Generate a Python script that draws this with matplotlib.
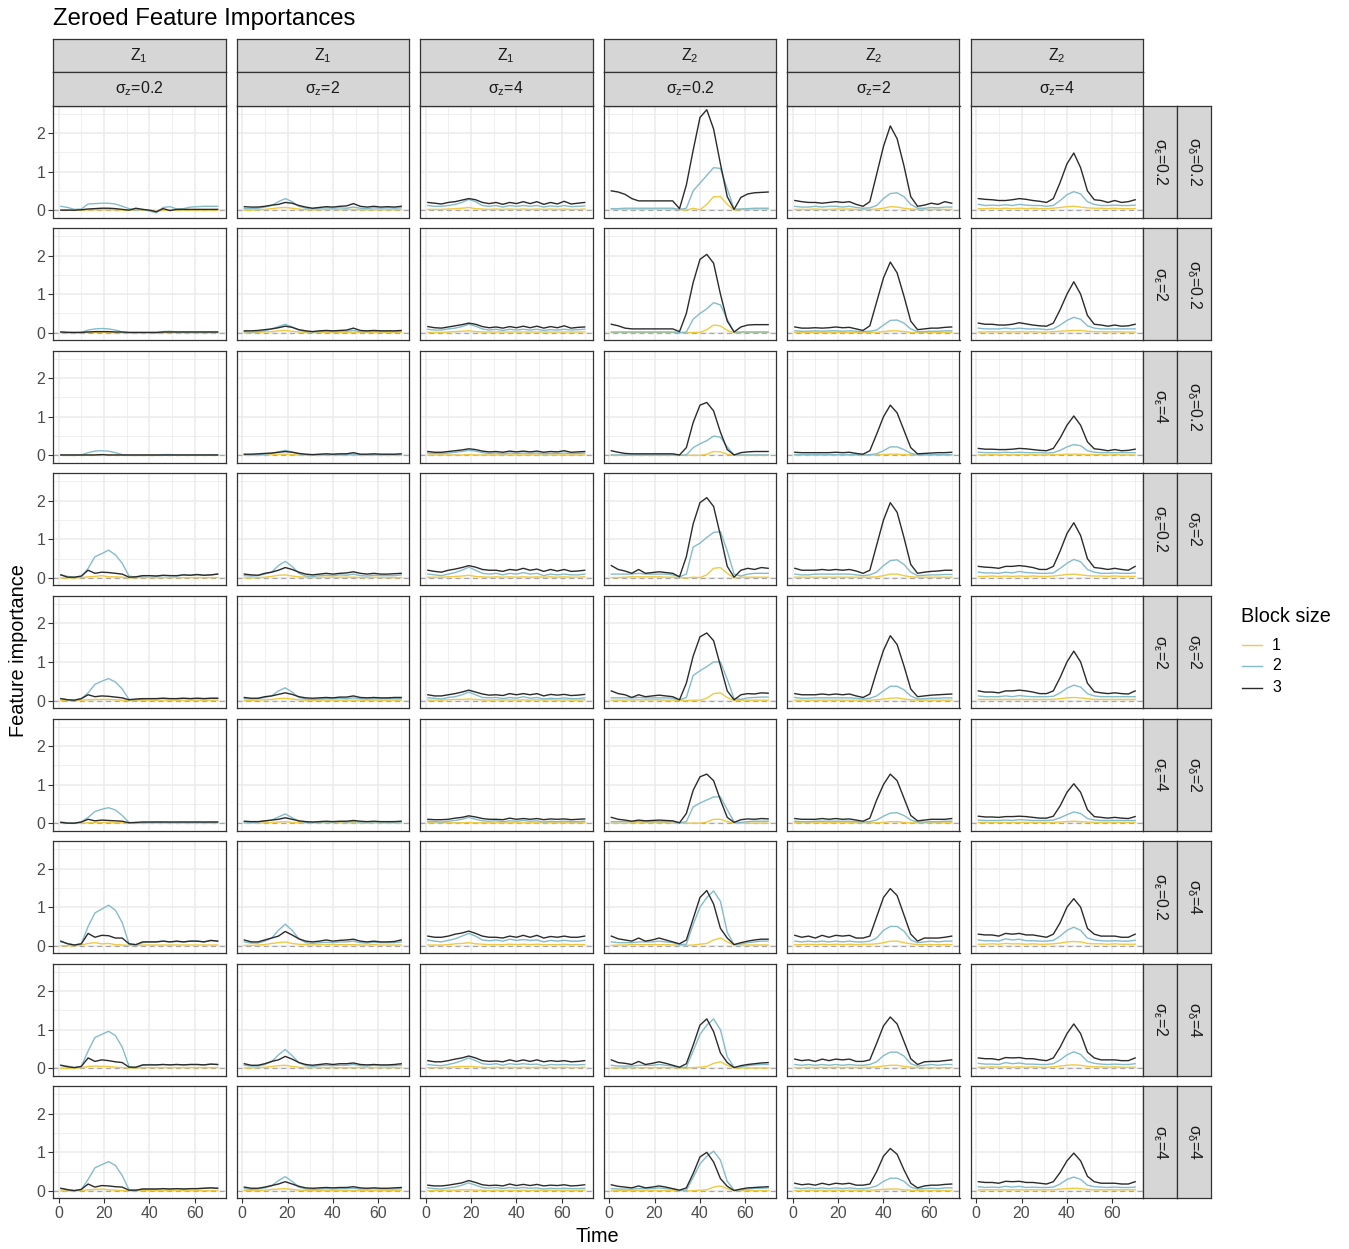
import numpy as np
import matplotlib
matplotlib.use("Agg")
import matplotlib.pyplot as plt
from matplotlib.lines import Line2D

plt.rcParams['font.family'] = ['Liberation Sans', 'DejaVu Sans']
plt.rcParams['mathtext.fontset'] = 'custom'
plt.rcParams['mathtext.rm'] = 'Liberation Sans'
plt.rcParams['mathtext.it'] = 'Liberation Sans:italic'
plt.rcParams['mathtext.bf'] = 'Liberation Sans:bold'

time = [1, 4, 7, 10, 13, 16, 19, 22, 25, 28, 31, 34, 37, 40, 43, 46, 49, 52, 55, 58, 61, 64, 67, 70]

feature_labels = ['Z_1', 'Z_1', 'Z_1', 'Z_2', 'Z_2', 'Z_2']
sigma_z = ['0.2', '2', '4', '0.2', '2', '4']
sigma_eps = ['0.2', '2', '4', '0.2', '2', '4', '0.2', '2', '4']
sigma_delta = ['0.2', '0.2', '0.2', '2', '2', '2', '4', '4', '4']
block_sizes = ['1', '2', '3']
block_colors = ['#EFCB45', '#85BCCC', '#2B2B2B']

# ---- Z1, sigma_z = 0.2 ----
z1_sz02_b1 = [
    [1, 1, 0, 0, 1, 1, 1, 1, 1, 0, 0, 0, 0, -1, -3, 0, 0, 0, 0, 0, 0, 0, 0, 0],
    [0, 0, 0, 0, 1, 1, 1, 1, 0, 0, 0, 0, 0, 0, 0, 0, 0, 0, 0, 0, 0, 0, 0, 0],
    [0, 0, 0, 0, 0, 1, 1, 1, 0, 0, 0, 0, 0, 0, 0, 0, 0, 0, 0, 0, 0, 0, 0, 0],
    [0, 0, 0, 1, 3, 4, 6, 3, 3, 2, 0, 1, 1, 1, 1, 1, 1, 1, 1, 1, 1, 1, 1, 1],
    [0, 0, 0, 1, 2, 3, 3, 3, 2, 1, 0, 1, 1, 1, 1, 1, 1, 1, 1, 1, 1, 1, 1, 1],
    [0, 0, 0, 0, 1, 2, 2, 2, 1, 1, 0, 0, 0, 0, 0, 0, 0, 0, 0, 0, 0, 0, 0, 0],
    [0, 0, 0, 2, 6, 8, 5, 6, 3, 2, 1, 1, 2, 2, 2, 2, 2, 2, 2, 2, 2, 2, 2, 2],
    [0, 0, 0, 2, 5, 6, 5, 5, 3, 2, 1, 1, 2, 2, 2, 2, 2, 2, 2, 2, 2, 2, 2, 2],
    [0, 0, 0, 1, 3, 4, 5, 3, 2, 1, 0, 1, 1, 1, 1, 1, 1, 1, 1, 1, 1, 1, 1, 1],
]
z1_sz02_b2 = [
    [10, 7, 2, 3, 16, 17, 18, 18, 16, 10, 4, 0, 2, -2, -7, 7, 9, 3, 4, 8, 9, 10, 10, 10],
    [2, 1, 0, 1, 7, 10, 11, 10, 7, 2, 0, 0, 0, 0, -1, 3, 4, 2, 2, 2, 2, 2, 2, 2],
    [1, 0, 0, 1, 7, 11, 12, 11, 7, 2, 0, 0, 0, 0, 0, 2, 2, 1, 1, 1, 1, 1, 1, 1],
    [8, 4, 2, 3, 25, 55, 63, 72, 60, 38, 5, 2, 5, 6, 5, 6, 6, 5, 8, 7, 8, 7, 8, 10],
    [5, 2, 1, 5, 20, 42, 50, 57, 48, 30, 3, 2, 4, 5, 5, 6, 5, 5, 6, 5, 6, 5, 6, 6],
    [3, 1, 0, 3, 15, 30, 36, 40, 34, 20, 2, 0, 2, 2, 3, 3, 2, 2, 3, 2, 3, 2, 3, 3],
    [10, 6, 2, 5, 50, 85, 95, 105, 92, 60, 5, 2, 8, 10, 10, 12, 10, 11, 10, 12, 12, 10, 13, 12],
    [8, 6, 2, 5, 45, 80, 88, 96, 85, 55, 5, 2, 8, 10, 9, 10, 9, 10, 9, 10, 10, 9, 11, 10],
    [6, 4, 1, 4, 30, 60, 68, 76, 66, 40, 3, 2, 5, 5, 5, 6, 5, 6, 5, 6, 6, 7, 8, 7],
]
z1_sz02_b3 = [
    [0, 0, 0, 1, 3, 4, 5, 5, 4, 2, 0, 5, 2, 0, -4, 4, -1, 2, 2, 2, 2, 2, 2, 2],
    [2, 1, 1, 1, 2, 3, 3, 3, 2, 2, 1, 1, 1, 1, 1, 2, 2, 2, 2, 2, 2, 2, 2, 2],
    [1, 1, 1, 1, 1, 1, 2, 1, 1, 1, 1, 1, 1, 1, 1, 1, 1, 1, 1, 1, 1, 1, 1, 1],
    [8, 2, 2, 5, 20, 12, 15, 14, 12, 10, 2, 3, 6, 6, 5, 7, 6, 6, 8, 7, 9, 7, 8, 10],
    [5, 2, 1, 5, 15, 10, 12, 11, 9, 7, 2, 4, 5, 5, 5, 6, 5, 5, 6, 5, 6, 5, 6, 6],
    [2, 0, 0, 3, 10, 6, 8, 7, 6, 5, 1, 2, 3, 3, 3, 3, 3, 3, 3, 3, 3, 3, 3, 3],
    [12, 5, 2, 5, 32, 22, 27, 26, 20, 20, 5, 3, 10, 10, 10, 12, 10, 12, 10, 12, 12, 10, 14, 12],
    [8, 4, 2, 5, 27, 18, 22, 20, 17, 15, 3, 3, 9, 9, 9, 10, 9, 10, 9, 10, 10, 9, 11, 10],
    [7, 3, 1, 4, 18, 10, 14, 13, 11, 10, 2, 2, 5, 5, 5, 6, 5, 6, 5, 6, 6, 7, 8, 7],
]

# ---- Z1, sigma_z = 2 ----
z1_sz2_b1 = [
    [0, 0, 1, 2, 4, 6, 7, 5, 3, 1, 1, 1, 2, 2, 1, 2, 2, 1, 1, 1, 1, 1, 1, 1],
    [0, 0, 1, 2, 3, 5, 6, 4, 2, 1, 1, 1, 1, 1, 1, 1, 1, 1, 1, 1, 1, 1, 1, 1],
    [0, 0, 0, 1, 2, 3, 3, 2, 1, 1, 0, 0, 1, 1, 0, 1, 1, 0, 0, 1, 0, 0, 0, 0],
    [0, 0, 1, 2, 4, 7, 8, 5, 3, 2, 1, 2, 2, 2, 2, 2, 2, 1, 1, 2, 1, 1, 1, 1],
    [0, 0, 1, 2, 3, 5, 6, 4, 2, 1, 1, 1, 1, 1, 1, 1, 1, 1, 1, 1, 1, 1, 1, 1],
    [0, 0, 0, 1, 2, 3, 4, 2, 1, 1, 0, 1, 1, 1, 1, 1, 1, 0, 0, 1, 0, 0, 0, 0],
    [1, 1, 2, 3, 6, 8, 10, 6, 4, 3, 2, 3, 3, 3, 3, 3, 3, 2, 2, 3, 2, 2, 2, 2],
    [1, 1, 2, 3, 5, 7, 8, 5, 3, 2, 2, 2, 2, 2, 2, 2, 2, 2, 2, 2, 2, 2, 2, 2],
    [1, 1, 1, 2, 4, 5, 6, 4, 2, 1, 1, 1, 1, 1, 1, 1, 1, 1, 1, 1, 1, 1, 1, 1],
]
z1_sz2_b2 = [
    [4, 4, 5, 8, 12, 22, 30, 22, 10, 5, 4, 5, 6, 5, 6, 5, 8, 5, 4, 6, 5, 6, 5, 6],
    [3, 2, 3, 5, 10, 16, 22, 15, 7, 3, 2, 3, 4, 3, 4, 4, 6, 3, 3, 4, 3, 4, 3, 4],
    [2, 2, 2, 3, 5, 9, 13, 9, 4, 2, 1, 2, 2, 2, 2, 2, 3, 2, 2, 2, 2, 2, 2, 2],
    [6, 5, 6, 10, 15, 32, 43, 30, 12, 5, 4, 6, 7, 6, 8, 7, 10, 6, 5, 7, 6, 6, 6, 8],
    [5, 4, 5, 8, 12, 25, 33, 22, 8, 4, 3, 4, 5, 5, 6, 5, 7, 5, 4, 5, 5, 5, 5, 5],
    [3, 2, 3, 5, 8, 16, 24, 14, 5, 2, 2, 3, 3, 3, 4, 3, 4, 3, 3, 3, 3, 3, 3, 3],
    [10, 7, 7, 12, 20, 40, 56, 40, 18, 8, 6, 8, 9, 8, 10, 10, 12, 8, 7, 9, 8, 8, 8, 10],
    [8, 6, 6, 10, 17, 35, 49, 33, 15, 7, 5, 7, 8, 7, 8, 8, 10, 7, 6, 8, 7, 7, 7, 8],
    [6, 4, 5, 8, 13, 27, 37, 25, 10, 5, 4, 5, 6, 5, 6, 6, 7, 5, 5, 6, 5, 5, 5, 6],
]
z1_sz2_b3 = [
    [9, 8, 8, 10, 13, 15, 20, 18, 12, 8, 5, 7, 9, 8, 10, 11, 17, 10, 8, 10, 8, 9, 8, 10],
    [5, 5, 6, 8, 10, 13, 17, 14, 8, 5, 3, 5, 6, 5, 6, 7, 12, 6, 5, 6, 5, 5, 5, 6],
    [3, 3, 4, 5, 6, 8, 10, 8, 5, 3, 2, 3, 4, 3, 4, 4, 7, 3, 3, 4, 3, 3, 3, 4],
    [10, 8, 7, 12, 15, 20, 27, 22, 15, 10, 8, 10, 12, 10, 12, 13, 16, 12, 10, 12, 10, 10, 11, 12],
    [8, 6, 6, 10, 12, 16, 20, 16, 10, 7, 6, 7, 8, 7, 9, 9, 12, 8, 7, 8, 7, 7, 8, 8],
    [5, 4, 4, 6, 8, 10, 14, 10, 6, 4, 3, 4, 5, 4, 5, 5, 7, 5, 4, 5, 4, 4, 4, 5],
    [15, 10, 10, 15, 20, 25, 37, 28, 18, 12, 10, 12, 15, 12, 14, 15, 17, 12, 10, 12, 10, 10, 11, 15],
    [12, 8, 8, 12, 18, 22, 31, 24, 15, 10, 8, 10, 12, 10, 12, 12, 14, 10, 9, 10, 9, 9, 10, 12],
    [10, 7, 7, 10, 14, 18, 24, 18, 12, 8, 7, 8, 9, 8, 9, 9, 11, 8, 7, 8, 7, 7, 8, 9],
]

# ---- Z1, sigma_z = 4 ----
z1_sz4_b1 = [
    [2, 2, 2, 3, 4, 5, 7, 4, 3, 2, 3, 2, 3, 2, 3, 2, 3, 2, 3, 2, 3, 2, 2, 3],
    [1, 1, 1, 2, 3, 4, 5, 3, 2, 2, 2, 2, 2, 2, 2, 2, 2, 2, 2, 2, 2, 2, 2, 2],
    [1, 1, 1, 1, 1, 1, 2, 1, 1, 1, 1, 1, 1, 1, 1, 1, 1, 1, 1, 1, 1, 1, 1, 1],
    [2, 2, 2, 3, 4, 5, 7, 4, 3, 2, 3, 2, 3, 2, 3, 2, 3, 2, 3, 2, 3, 2, 2, 3],
    [1, 1, 1, 2, 3, 3, 4, 3, 2, 1, 2, 1, 2, 1, 2, 1, 2, 1, 2, 1, 2, 1, 1, 2],
    [1, 1, 1, 1, 1, 1, 2, 1, 1, 1, 1, 1, 1, 1, 1, 1, 1, 1, 1, 1, 1, 1, 1, 1],
    [2, 2, 2, 3, 5, 6, 8, 5, 4, 3, 3, 3, 4, 3, 4, 3, 4, 3, 3, 3, 4, 3, 3, 3],
    [2, 2, 2, 3, 4, 5, 5, 4, 3, 2, 3, 2, 3, 2, 3, 2, 3, 2, 3, 2, 3, 2, 2, 3],
    [1, 1, 1, 2, 2, 3, 3, 2, 2, 1, 2, 1, 2, 1, 2, 1, 2, 1, 2, 1, 2, 1, 1, 2],
]
z1_sz4_b2 = [
    [12, 10, 10, 12, 15, 20, 28, 22, 12, 10, 12, 8, 12, 10, 12, 10, 12, 8, 11, 9, 12, 9, 10, 11],
    [9, 7, 7, 10, 12, 16, 22, 17, 10, 7, 9, 6, 9, 7, 9, 7, 9, 6, 8, 7, 9, 7, 8, 9],
    [6, 5, 5, 6, 8, 10, 13, 11, 7, 5, 6, 4, 6, 5, 6, 5, 6, 4, 5, 5, 6, 5, 5, 6],
    [10, 8, 6, 10, 14, 20, 28, 20, 12, 10, 12, 8, 12, 10, 14, 10, 12, 6, 10, 8, 10, 8, 8, 10],
    [7, 6, 4, 8, 10, 15, 22, 15, 8, 7, 8, 5, 8, 6, 10, 6, 8, 4, 6, 5, 7, 5, 5, 7],
    [5, 4, 3, 5, 7, 10, 15, 10, 6, 5, 6, 4, 6, 5, 7, 5, 6, 3, 5, 4, 5, 4, 4, 5],
    [15, 12, 10, 14, 18, 25, 32, 25, 15, 13, 15, 12, 17, 14, 16, 14, 15, 10, 14, 12, 14, 12, 12, 14],
    [10, 8, 7, 10, 14, 20, 27, 20, 12, 10, 12, 8, 12, 10, 12, 10, 11, 7, 10, 9, 10, 9, 9, 10],
    [8, 6, 5, 8, 10, 15, 21, 15, 9, 7, 9, 6, 9, 7, 9, 7, 8, 5, 7, 6, 7, 6, 6, 7],
]
z1_sz4_b3 = [
    [20, 18, 16, 20, 22, 26, 30, 27, 20, 17, 20, 15, 20, 17, 22, 17, 22, 15, 20, 16, 23, 16, 18, 20],
    [16, 13, 12, 15, 18, 21, 25, 22, 16, 13, 15, 12, 16, 13, 17, 13, 17, 12, 16, 13, 18, 12, 14, 15],
    [10, 8, 8, 10, 12, 14, 17, 15, 11, 9, 10, 8, 11, 9, 11, 9, 11, 8, 10, 9, 12, 8, 9, 10],
    [20, 17, 15, 20, 23, 27, 32, 28, 22, 20, 20, 17, 22, 20, 25, 20, 23, 17, 22, 18, 22, 17, 18, 20],
    [15, 12, 12, 15, 18, 22, 27, 22, 17, 14, 15, 13, 18, 15, 18, 15, 18, 12, 16, 14, 16, 13, 14, 16],
    [10, 9, 9, 10, 13, 15, 19, 16, 12, 10, 10, 9, 13, 10, 12, 10, 12, 9, 11, 10, 11, 9, 10, 11],
    [25, 22, 22, 25, 30, 33, 38, 32, 25, 22, 22, 20, 25, 22, 27, 22, 27, 20, 24, 22, 25, 22, 22, 25],
    [20, 17, 17, 20, 24, 27, 32, 27, 20, 18, 19, 17, 22, 18, 22, 18, 22, 17, 20, 18, 20, 17, 18, 20],
    [15, 13, 13, 15, 18, 21, 27, 22, 16, 14, 15, 13, 18, 14, 17, 14, 17, 13, 15, 14, 16, 13, 14, 16],
]

# ---- Z2, sigma_z = 0.2 ----
z2_sz02_b1 = [
    [3, 3, 3, 3, 3, 3, 3, 3, 3, 3, 2, 0, 5, 1, 15, 35, 35, 15, 0, 2, 3, 3, 3, 3],
    [1, 1, 1, 1, 1, 1, 1, 1, 1, 1, 1, 0, 1, 1, 8, 20, 18, 6, 0, 1, 1, 1, 1, 1],
    [0, 0, 0, 0, 0, 0, 0, 0, 0, 0, 0, 0, 0, 0, 3, 10, 9, 3, 0, 0, 0, 0, 0, 0],
    [1, 1, 2, 3, 3, 3, 3, 3, 2, 2, 1, 0, 2, 1, 8, 25, 27, 12, 0, 2, 2, 2, 2, 2],
    [1, 1, 1, 2, 2, 2, 2, 2, 1, 1, 1, 0, 1, 1, 6, 18, 20, 8, 0, 1, 1, 1, 1, 1],
    [0, 0, 0, 1, 1, 1, 1, 1, 1, 0, 0, 0, 0, 0, 3, 10, 10, 4, 0, 0, 0, 0, 0, 0],
    [1, 2, 2, 3, 3, 3, 3, 3, 3, 2, 2, 1, 2, 4, 6, 15, 20, 10, 2, 2, 2, 2, 2, 2],
    [1, 1, 2, 2, 2, 2, 2, 2, 2, 2, 1, 1, 2, 3, 5, 13, 17, 8, 1, 1, 1, 1, 1, 1],
    [0, 1, 1, 1, 1, 1, 1, 1, 1, 1, 1, 0, 1, 2, 3, 10, 13, 6, 1, 1, 1, 1, 1, 1],
]
z2_sz02_b2 = [
    [4, 4, 5, 5, 5, 5, 5, 5, 5, 5, 2, 5, 50, 70, 90, 110, 108, 55, 3, 3, 4, 5, 5, 5],
    [2, 2, 2, 2, 2, 2, 2, 2, 2, 2, 0, 2, 35, 50, 62, 78, 72, 35, 2, 2, 2, 2, 2, 2],
    [1, 1, 1, 1, 1, 1, 1, 1, 1, 1, 0, 1, 20, 30, 38, 50, 47, 22, 1, 1, 1, 1, 1, 1],
    [10, 10, 10, 10, 12, 10, 10, 10, 10, 8, 3, 10, 80, 90, 105, 118, 120, 70, 10, 5, 10, 12, 12, 12],
    [7, 7, 7, 7, 8, 7, 7, 7, 7, 6, 2, 8, 65, 77, 88, 100, 100, 55, 5, 3, 7, 8, 9, 9],
    [4, 4, 4, 4, 5, 4, 4, 4, 4, 4, 1, 4, 42, 52, 60, 68, 68, 35, 3, 2, 4, 5, 5, 5],
    [10, 8, 8, 8, 10, 10, 10, 12, 10, 8, 3, 4, 55, 100, 125, 142, 115, 35, 3, 5, 8, 10, 12, 12],
    [8, 6, 6, 6, 8, 8, 8, 10, 8, 6, 2, 3, 45, 88, 112, 128, 100, 30, 3, 4, 7, 9, 10, 10],
    [6, 5, 5, 5, 6, 6, 6, 8, 6, 5, 2, 2, 35, 70, 90, 103, 80, 25, 2, 3, 5, 7, 7, 8],
]
z2_sz02_b3 = [
    [50, 47, 41, 30, 24, 24, 24, 24, 24, 24, 4, 65, 155, 240, 260, 210, 120, 35, 2, 33, 42, 45, 46, 47],
    [22, 18, 12, 10, 10, 10, 10, 10, 10, 10, 3, 50, 130, 190, 203, 180, 100, 30, 2, 15, 20, 21, 21, 21],
    [12, 8, 5, 4, 4, 4, 4, 4, 4, 4, 1, 20, 85, 130, 137, 115, 60, 15, 1, 7, 9, 10, 10, 10],
    [32, 22, 18, 12, 22, 12, 14, 16, 14, 12, 3, 55, 140, 195, 208, 185, 110, 30, 2, 20, 25, 22, 27, 25],
    [25, 18, 15, 8, 15, 10, 12, 14, 12, 10, 2, 45, 115, 165, 175, 155, 90, 25, 2, 15, 18, 17, 20, 19],
    [15, 10, 8, 5, 8, 6, 7, 8, 7, 6, 1, 25, 85, 120, 127, 110, 60, 15, 2, 9, 11, 10, 12, 11],
    [25, 18, 15, 12, 20, 12, 15, 20, 15, 10, 5, 15, 70, 125, 143, 108, 45, 20, 3, 8, 12, 15, 17, 17],
    [22, 15, 13, 10, 18, 10, 13, 17, 13, 8, 3, 12, 60, 112, 128, 95, 40, 15, 2, 7, 10, 12, 14, 15],
    [16, 12, 10, 8, 13, 8, 10, 13, 10, 6, 2, 8, 45, 88, 100, 75, 32, 12, 1, 5, 8, 9, 10, 11],
]

# ---- Z2, sigma_z = 2 ----
z2_sz2_b1 = [
    [2, 2, 2, 3, 2, 2, 3, 3, 3, 2, 2, 2, 3, 5, 9, 8, 5, 3, 2, 2, 2, 2, 2, 2],
    [1, 1, 1, 1, 1, 1, 1, 1, 1, 1, 1, 1, 1, 3, 5, 5, 3, 1, 1, 1, 1, 1, 1, 1],
    [1, 1, 1, 1, 1, 1, 1, 1, 1, 1, 1, 1, 1, 2, 3, 3, 2, 1, 1, 1, 1, 1, 1, 1],
    [2, 2, 2, 2, 2, 2, 2, 2, 2, 2, 2, 2, 3, 6, 10, 10, 6, 3, 2, 2, 2, 2, 2, 2],
    [1, 1, 1, 1, 1, 1, 1, 1, 1, 1, 1, 1, 2, 4, 6, 7, 4, 2, 1, 1, 1, 1, 1, 1],
    [1, 1, 1, 1, 1, 1, 1, 1, 1, 1, 1, 1, 1, 2, 4, 4, 2, 1, 1, 1, 1, 1, 1, 1],
    [3, 3, 4, 3, 4, 3, 4, 3, 4, 3, 4, 4, 5, 8, 12, 12, 8, 5, 3, 3, 3, 3, 3, 3],
    [2, 2, 3, 2, 3, 2, 3, 2, 3, 2, 3, 3, 4, 6, 8, 8, 5, 3, 2, 2, 2, 2, 2, 2],
    [1, 1, 2, 1, 2, 1, 2, 1, 2, 1, 2, 2, 3, 4, 5, 5, 3, 2, 1, 1, 1, 1, 1, 1],
]
z2_sz2_b2 = [
    [10, 8, 8, 10, 8, 10, 10, 8, 10, 7, 5, 6, 12, 30, 43, 45, 35, 15, 5, 5, 7, 6, 8, 8],
    [5, 4, 4, 5, 4, 5, 5, 4, 5, 4, 3, 4, 7, 20, 32, 33, 25, 10, 3, 3, 4, 4, 5, 5],
    [2, 2, 2, 2, 2, 2, 2, 2, 2, 2, 1, 2, 4, 12, 22, 22, 15, 5, 2, 2, 2, 2, 2, 2],
    [10, 8, 8, 10, 10, 10, 10, 10, 10, 8, 6, 8, 15, 32, 45, 47, 35, 15, 6, 7, 8, 8, 9, 9],
    [8, 6, 6, 7, 7, 7, 7, 7, 7, 6, 4, 6, 12, 25, 37, 37, 28, 12, 4, 5, 6, 6, 7, 7],
    [5, 4, 4, 5, 5, 5, 5, 5, 5, 4, 3, 4, 8, 18, 26, 27, 20, 8, 3, 3, 4, 4, 5, 5],
    [12, 10, 12, 10, 12, 10, 12, 10, 12, 10, 10, 12, 20, 40, 50, 50, 38, 15, 8, 10, 12, 10, 12, 12],
    [10, 8, 10, 8, 10, 8, 10, 8, 10, 8, 8, 10, 17, 33, 42, 42, 32, 12, 6, 8, 10, 8, 10, 10],
    [8, 6, 8, 6, 8, 6, 8, 6, 8, 6, 6, 8, 13, 25, 33, 33, 25, 10, 5, 6, 7, 6, 8, 8],
]
z2_sz2_b3 = [
    [25, 22, 20, 20, 18, 20, 22, 20, 22, 15, 10, 22, 93, 165, 218, 185, 115, 35, 10, 13, 18, 15, 22, 18],
    [15, 12, 12, 13, 12, 13, 15, 13, 14, 10, 6, 18, 80, 142, 183, 155, 95, 30, 8, 10, 12, 12, 14, 15],
    [8, 7, 7, 7, 7, 7, 8, 7, 8, 5, 3, 12, 55, 100, 130, 110, 65, 20, 4, 5, 6, 7, 7, 8],
    [25, 20, 20, 20, 22, 20, 22, 20, 22, 18, 12, 20, 85, 150, 195, 170, 105, 35, 12, 15, 17, 18, 20, 20],
    [18, 15, 15, 15, 17, 15, 17, 15, 17, 12, 8, 17, 75, 130, 168, 145, 90, 30, 10, 12, 14, 15, 16, 17],
    [12, 10, 10, 10, 12, 10, 12, 10, 11, 8, 5, 13, 60, 100, 127, 110, 65, 20, 6, 8, 10, 10, 10, 12],
    [27, 22, 25, 20, 27, 22, 27, 25, 27, 20, 20, 25, 75, 125, 148, 130, 80, 30, 12, 20, 20, 20, 22, 25],
    [24, 20, 22, 18, 24, 20, 24, 22, 24, 18, 18, 22, 65, 110, 133, 115, 70, 25, 10, 17, 18, 18, 20, 22],
    [20, 16, 18, 15, 20, 16, 20, 18, 20, 15, 15, 18, 50, 90, 110, 95, 55, 20, 8, 13, 15, 15, 17, 18],
]

# ---- Z2, sigma_z = 4 ----
z2_sz4_b1 = [
    [4, 4, 5, 4, 5, 4, 5, 4, 5, 4, 4, 5, 7, 9, 10, 8, 6, 5, 5, 4, 5, 4, 4, 4],
    [2, 2, 3, 2, 3, 2, 3, 2, 3, 2, 2, 3, 4, 5, 6, 6, 4, 3, 3, 2, 3, 2, 2, 2],
    [1, 1, 2, 1, 2, 1, 2, 1, 2, 1, 1, 2, 2, 3, 3, 3, 2, 2, 2, 1, 2, 1, 1, 1],
    [4, 4, 5, 4, 5, 4, 5, 4, 5, 4, 4, 5, 7, 9, 10, 8, 6, 5, 5, 4, 5, 4, 4, 4],
    [3, 3, 3, 3, 3, 3, 3, 3, 3, 3, 3, 3, 5, 7, 8, 7, 5, 3, 3, 3, 3, 3, 3, 3],
    [2, 2, 2, 2, 2, 2, 2, 2, 2, 2, 2, 2, 3, 4, 5, 4, 3, 2, 2, 2, 2, 2, 2, 2],
    [4, 4, 5, 4, 6, 5, 5, 4, 5, 4, 4, 5, 7, 10, 11, 10, 6, 5, 5, 4, 5, 4, 4, 4],
    [3, 3, 4, 3, 4, 3, 4, 3, 4, 3, 3, 4, 6, 8, 9, 8, 5, 4, 4, 3, 4, 3, 3, 3],
    [3, 3, 3, 3, 3, 3, 3, 3, 3, 3, 3, 3, 5, 6, 7, 6, 4, 3, 3, 3, 3, 3, 3, 3],
]
z2_sz4_b2 = [
    [15, 12, 13, 12, 14, 12, 15, 13, 12, 12, 10, 12, 25, 40, 48, 42, 22, 15, 12, 12, 13, 12, 12, 13],
    [12, 10, 10, 10, 12, 10, 12, 10, 10, 10, 8, 10, 20, 32, 40, 35, 18, 12, 10, 10, 10, 10, 10, 10],
    [8, 7, 7, 7, 8, 7, 8, 7, 7, 7, 6, 7, 13, 22, 28, 25, 12, 8, 7, 7, 7, 7, 7, 7],
    [15, 13, 13, 12, 15, 13, 17, 14, 13, 12, 12, 13, 25, 38, 48, 42, 22, 15, 12, 12, 13, 12, 12, 13],
    [12, 10, 10, 10, 12, 10, 13, 11, 10, 10, 10, 11, 20, 32, 40, 35, 18, 12, 10, 10, 10, 10, 10, 10],
    [8, 7, 7, 7, 8, 7, 9, 8, 7, 7, 7, 8, 14, 22, 29, 25, 12, 8, 7, 7, 7, 7, 7, 7],
    [15, 13, 13, 12, 18, 15, 17, 13, 13, 12, 12, 14, 25, 40, 48, 40, 20, 15, 13, 12, 13, 12, 12, 14],
    [13, 11, 11, 10, 15, 12, 14, 11, 11, 10, 10, 12, 22, 35, 43, 36, 18, 13, 11, 10, 11, 10, 10, 12],
    [11, 9, 10, 9, 12, 10, 12, 9, 10, 9, 9, 10, 18, 30, 36, 30, 15, 11, 10, 9, 10, 9, 9, 10],
]
z2_sz4_b3 = [
    [30, 28, 27, 25, 25, 27, 30, 28, 25, 23, 20, 30, 72, 120, 148, 110, 50, 27, 25, 20, 25, 20, 22, 27],
    [25, 22, 22, 20, 20, 22, 26, 23, 20, 18, 17, 25, 60, 100, 132, 100, 45, 22, 20, 17, 20, 17, 18, 22],
    [18, 16, 16, 15, 15, 16, 18, 17, 15, 13, 12, 18, 45, 78, 102, 78, 35, 17, 15, 12, 15, 12, 13, 16],
    [30, 28, 27, 25, 30, 30, 32, 30, 27, 22, 22, 30, 70, 115, 143, 110, 50, 27, 25, 22, 25, 22, 20, 30],
    [25, 22, 22, 20, 25, 25, 27, 25, 22, 18, 18, 25, 60, 100, 128, 100, 45, 23, 20, 18, 20, 18, 17, 25],
    [18, 16, 16, 15, 17, 17, 18, 17, 15, 13, 13, 18, 45, 80, 102, 80, 35, 17, 15, 13, 15, 13, 12, 17],
    [30, 28, 28, 25, 32, 30, 32, 28, 28, 25, 22, 30, 60, 100, 122, 100, 45, 30, 25, 25, 25, 22, 22, 30],
    [27, 25, 25, 22, 28, 27, 28, 25, 25, 22, 20, 27, 55, 90, 115, 90, 42, 27, 22, 22, 22, 20, 20, 27],
    [24, 22, 22, 20, 25, 24, 25, 22, 22, 20, 18, 24, 48, 78, 98, 78, 38, 24, 20, 20, 20, 18, 18, 24],
]

columns = [
    (z1_sz02_b1, z1_sz02_b2, z1_sz02_b3),
    (z1_sz2_b1, z1_sz2_b2, z1_sz2_b3),
    (z1_sz4_b1, z1_sz4_b2, z1_sz4_b3),
    (z2_sz02_b1, z2_sz02_b2, z2_sz02_b3),
    (z2_sz2_b1, z2_sz2_b2, z2_sz2_b3),
    (z2_sz4_b1, z2_sz4_b2, z2_sz4_b3),
]

W, H = 1349, 1249
EDGE = '#333333'
STRIP_FILL = '#D6D6D6'


def rect(x0, y0, w, h):
    return [x0 / W, 1 - (y0 + h) / H, w / W, h / H]


def fx(x):
    return x / W


def fy(y):
    return 1 - y / H


def add_strip(fig, x0, y0, w, h, text, rot=0):
    sa = fig.add_axes(rect(x0, y0, w, h))
    sa.set_facecolor(STRIP_FILL)
    sa.set_xticks([])
    sa.set_yticks([])
    for s in sa.spines.values():
        s.set_color(EDGE)
        s.set_linewidth(0.9)
    sa.text(0.5, 0.5, text, ha='center', va='center', rotation=rot,
            fontsize=11.4, color='#1A1A1A', transform=sa.transAxes)


fig = plt.figure(figsize=(W / 100, H / 100), dpi=100)

col_x = [53 + 183.5 * i for i in range(6)]
row_y = [105.5 + 122.6 * j for j in range(9)]
pw, ph = 172.5, 112

for c in range(6):
    for r in range(9):
        ax = fig.add_axes(rect(col_x[c], row_y[r], pw, ph))
        ax.axhline(0, color='#A8A8A8', ls=(0, (4, 3)), lw=0.9, zorder=1)
        for k in range(3):
            ax.plot(time, np.array(columns[c][k][r]) / 100, color=block_colors[k],
                    lw=1.0, zorder=2 + k)
        ax.set_xlim(-2.45, 73.45)
        ax.set_ylim(-0.19, 2.71)
        ax.set_xticks([0, 20, 40, 60])
        ax.set_xticks([10, 30, 50, 70], minor=True)
        ax.set_yticks([0, 1, 2])
        ax.set_yticks([0.5, 1.5, 2.5], minor=True)
        ax.grid(which='major', color='#EBEBEB', lw=1.1)
        ax.grid(which='minor', color='#EBEBEB', lw=0.55)
        ax.set_axisbelow(True)
        ax.tick_params(which='minor', length=0)
        ax.tick_params(which='major', length=3.6, width=0.8, color=EDGE,
                       labelsize=11.4, labelcolor='#4D4D4D', pad=2)
        if c > 0:
            ax.tick_params(labelleft=False, left=False)
        if r < 8:
            ax.tick_params(labelbottom=False, bottom=False)
        for s in ax.spines.values():
            s.set_color(EDGE)
            s.set_linewidth(0.9)

    add_strip(fig, col_x[c], 38.5, pw, 33.5, '$\\mathregular{' + feature_labels[c] + '}$')
    add_strip(fig, col_x[c], 72, pw, 33.5, '$\\mathregular{\\sigma_z}$=' + sigma_z[c])

right_x = col_x[5] + pw
for r in range(9):
    add_strip(fig, right_x, row_y[r], 34, ph,
              '$\\mathregular{\\sigma_\\varepsilon}$=' + sigma_eps[r], rot=-90)
    add_strip(fig, right_x + 34, row_y[r], 34, ph,
              '$\\mathregular{\\sigma_\\delta}$=' + sigma_delta[r], rot=-90)

fig.text(fx(53), fy(25), 'Zeroed Feature Importances', fontsize=17.2,
         ha='left', va='baseline', color='black')
fig.text(fx(597), fy(1236), 'Time', fontsize=14.3, ha='center', va='center')
fig.text(fx(19), fy(651), 'Feature importance', fontsize=14.3,
         ha='center', va='center', rotation=90)

# legend, drawn by hand to match the ggplot spacing
fig.text(fx(1241), fy(616), 'Block size', fontsize=14.3, ha='left', va='center')
legend_y = [645, 666, 688]
for k in range(3):
    fig.add_artist(Line2D([fx(1242), fx(1262)], [fy(legend_y[k]), fy(legend_y[k])],
                          transform=fig.transFigure, color=block_colors[k], lw=1.0))
    fig.text(fx(1272), fy(legend_y[k]), block_sizes[k], fontsize=11.4,
             ha='left', va='center')

fig.savefig('out.png', dpi=100)
